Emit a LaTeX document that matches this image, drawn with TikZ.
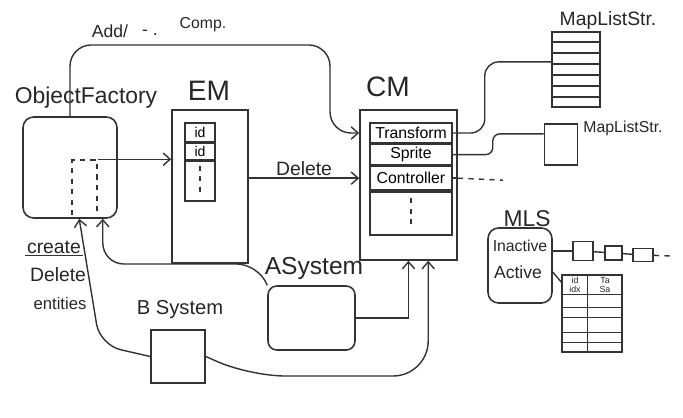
\documentclass[tikz,border=0pt]{standalone}
\usepackage{fontspec}
\setmainfont{Liberation Sans}
\usetikzlibrary{calc,positioning,arrows.meta}

\newcommand{\fsz}[1]{\fontsize{#1}{#1}\selectfont}

\tikzset{
    pen/.style={draw=black!80, line width=0.9pt},
    wire/.style={black!80, line width=0.8pt},
    box/.style={pen, rectangle, inner sep=0pt},
    row/.style={pen, rectangle, inner sep=0pt, minimum width=1.64cm, font=\fsz{9}},
    title/.style={text=black!85, inner sep=1pt},
}

\begin{document}
\begin{tikzpicture}[x=0.02cm,y=-0.02cm,>={Straight Barb[length=4pt,width=7pt]}]
    \useasboundingbox (0,0) rectangle (683,417);

    % object factory
    \node[title,font=\fsz{13}] (oft) at (86,98) {ObjectFactory};
    \node[box,rounded corners=6pt,minimum width=1.88cm,minimum height=2.02cm] (of) at (70,167.5) {};
    \node[box,dashed,minimum width=0.5cm,minimum height=1.16cm] (ofid) at (84.5,189) {};

    % entity manager
    \node[title,font=\fsz{16}] (emt) at (209,91) {EM};
    \node[box,minimum width=1.52cm,minimum height=3.06cm] (em) at (210,186.5) {};
    \node[box,minimum width=0.6cm,minimum height=0.38cm,font=\fsz{8}] (e1) at (200,132.5) {id};
    \node[box,minimum width=0.6cm,minimum height=0.32cm,font=\fsz{8},below=0pt of e1] (e2) {id};
    \node[box,minimum width=0.6cm,minimum height=0.8cm,below=0pt of e2] (e3) {};
    \draw[wire,dashed] ([yshift=-3pt]e3.north) -- ([yshift=4pt]e3.south);

    % component manager
    \node[title,font=\fsz{16}] (cmt) at (388,87) {CM};
    \node[box,minimum width=1.94cm,minimum height=3cm] (cm) at (408.5,185) {};
    \node[row,minimum height=0.4cm] (trf) at (411,133) {Transform};
    \node[row,minimum height=0.4cm,below=0pt of trf] (spr) {Sprite};
    \node[row,minimum height=0.48cm,below=0pt of spr] (ctl) {Controller};
    \node[row,minimum height=0.86cm,below=0pt of ctl] (cmx) {};
    \draw[wire,dashed] ([yshift=-4pt]cmx.north) -- ([yshift=6pt]cmx.south);

    % map list storages
    \node[title,font=\fsz{11}] (mst1) at (608,20) {MapListStr.};
    \node[box,minimum width=0.96cm,minimum height=1.5cm] (stk) at (576,69.5) {};
    \foreach \k in {1,...,6}
        \draw[wire] ($(stk.north west)!\k/7!(stk.south west)$) -- ($(stk.north east)!\k/7!(stk.south east)$);
    \node[title,font=\fsz{9}] (mst2) at (623,128) {MapListStr.};
    \node[box,minimum width=0.66cm,minimum height=0.82cm] (msm) at (561,144.5) {};

    % MLS
    \node[title,font=\fsz{13}] (mlst) at (527,219) {MLS};
    \node[box,rounded corners=6pt,minimum width=1.28cm,minimum height=1.5cm] (mls) at (520,265.5) {};
    \node[title,font=\fsz{9}] (inact) at (520,246) {Inactive};
    \node[title,font=\fsz{10}] (act) at (518,272) {Active};

    % inactive chain
    \node[box,minimum width=0.4cm,minimum height=0.38cm] (q1) at (583,251) {};
    \node[box,minimum width=0.34cm,minimum height=0.28cm] (q2) at (613.5,253) {};
    \node[box,minimum width=0.4cm,minimum height=0.26cm] (q3) at (643,255) {};
    \coordinate (qend) at (672,256);

    % active table
    \node[box,minimum width=1.2cm,minimum height=1.54cm] (tbl) at (592,313.5) {};
    \draw[wire] ($(tbl.north west)!0.43!(tbl.north east)$) -- ($(tbl.south west)!0.43!(tbl.south east)$);
    \foreach \f in {0.26,0.42,0.55,0.74,0.87}
        \draw[wire] ($(tbl.north west)!\f!(tbl.south west)$) -- ($(tbl.north east)!\f!(tbl.south east)$);
    \node[title,font=\fsz{5},align=center] (th1) at (575,285) {id\\idx};
    \node[title,font=\fsz{5},align=center] (th2) at (605,285) {Ta\\Sa};

    % systems
    \node[title,font=\fsz{14}] (ast) at (314,268) {ASystem};
    \node[box,rounded corners=5pt,minimum width=1.74cm,minimum height=1.28cm] (as) at (311.5,318) {};
    \node[title,font=\fsz{11.5}] (bst) at (180,310) {B System};
    \node[box,minimum width=1.08cm,minimum height=1.06cm] (bs) at (178,356.5) {};

    % labels on the left and on top
    \node[title,font=\fsz{11}] (crt) at (54,247) {create};
    \draw[wire] (crt.south west) -- (crt.south east);
    \node[title,font=\fsz{11}] (del) at (58,275) {Delete};
    \node[title,font=\fsz{9.5}] (ent) at (60,304) {entities};
    \node[title,font=\fsz{10}] (add) at (110,31) {Add/};
    \node[title,font=\fsz{10}] (dsh) at (150,33) {- .};
    \node[title,font=\fsz{9}] (cmp) at (203,25) {Comp.};

    % connectors
    \draw[wire,->,rounded corners=12pt] (of.north) |- (330,45) |- (trf.west -| cm.west);
    \draw[wire,->] (ofid.north east) -- (ofid.north east -| em.west);
    \draw[wire,->] (em.east |- ctl.west) -- node[title,above,font=\fsz{11}] (dlt) {Delete} (ctl.west -| cm.west);
    \draw[wire,rounded corners=8pt] (trf.east) -- ++(32,0) |- ($(stk.north west)!0.4!(stk.south west)$);
    \draw[wire,rounded corners=4pt] (spr.east) -- ++(40,0) |- ($(msm.north west)!0.25!(msm.south west)$);
    \draw[wire] (ctl.east) -- (ctl.east -| cm.east);
    \draw[wire,dashed] (ctl.east -| cm.east) -- ($(ctl.east -| cm.east)+(45,2)$);
    \draw[wire] (mls.east |- q1) -- (q1);
    \draw[wire] (q1) -- (q2);
    \draw[wire] (q2) -- (q3);
    \draw[wire,dashed] (q3) -- (qend);
    \draw[wire] (act.east -| mls.east) -- ($(tbl.north west)!0.1!(tbl.south west)$);
    \draw[wire,->,rounded corners=12pt] (as.north west) -- (258,264) -| ([xshift=0.1cm]ofid.south east);
    \draw[wire,->] (as.east) -| (cm.south);
    \draw[wire,->,rounded corners=20pt] (bs.east) -- (250,376) -| ($(cm.south)!0.4!(cm.south east)$);
    \draw[wire,->,rounded corners=12pt] (bs.west) -- (100,345) -- ([xshift=0.16cm]ofid.south west);
\end{tikzpicture}
\end{document}
